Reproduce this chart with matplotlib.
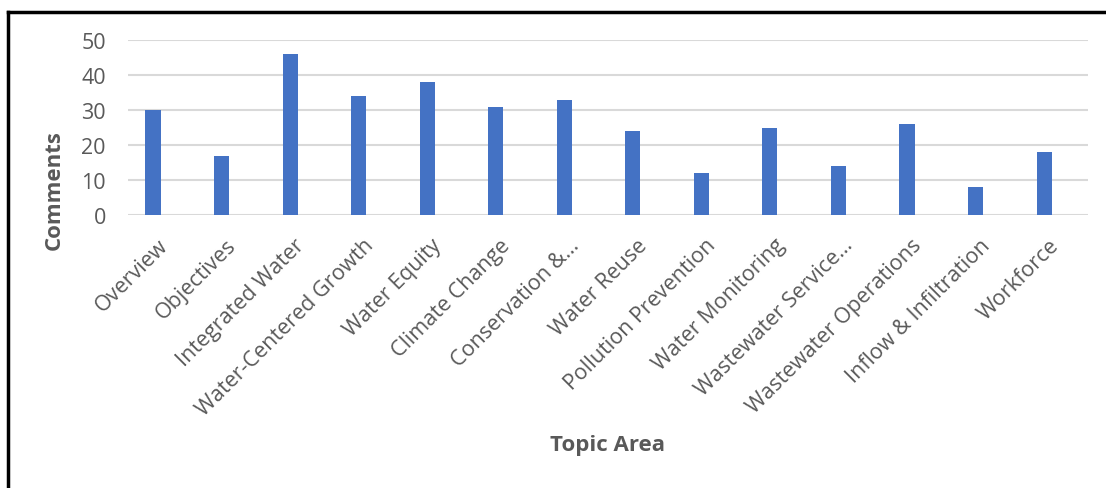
import matplotlib.pyplot as plt
import matplotlib.lines as mlines
import matplotlib.transforms as mtransforms

# Data
topics = ['Overview', 'Objectives', 'Integrated Water', 'Water-Centered Growth',
          'Water Equity', 'Climate Change', 'Conservation &…', 'Water Reuse',
          'Pollution Prevention', 'Water Monitoring', 'Wastewater Service…',
          'Wastewater Operations', 'Inflow & Infiltration', 'Workforce']
comments = [30, 17, 46, 34, 38, 31, 33, 24, 12, 25, 14, 26, 8, 18]
yticks = [0, 10, 20, 30, 40, 50]

plt.rcParams['font.family'] = ['Open Sans', 'DejaVu Sans']
txt = '#595959'

fig = plt.figure(figsize=(11.06, 4.89), dpi=100)
ax = fig.add_axes([128/1106, 1 - 216/489, (1088-128)/1106, (216-41)/489])

x = range(len(topics))
ax.bar(x, comments, width=0.22, color='#4472C4', zorder=3)

ax.set_ylim(0, 50)
# plot area is not centred on the categories in the original
ax.set_xlim(-0.365, len(topics) - 1 + 0.64)
ax.set_yticks(yticks)
ax.yaxis.grid(True, color='#D9D9D9', linewidth=1.5, zorder=0)
for s in ax.spines.values():
    s.set_visible(False)
ax.tick_params(axis='both', length=0, labelsize=15.5, labelcolor=txt)
ax.tick_params(axis='y', pad=16)
ax.set_xticks(list(x))
ax.set_xticklabels(topics, rotation=45, ha='right', rotation_mode='anchor')
ax.tick_params(axis='x', pad=14)

# nudge the slanted labels a little to the right
shift = mtransforms.ScaledTranslation(4/100, 0, fig.dpi_scale_trans)
for lab in ax.get_xticklabels():
    lab.set_transform(lab.get_transform() + shift)

fig.text(54/1106, 1 - 190/489, 'Comments', fontsize=16, fontweight='bold',
         color=txt, ha='center', va='center', rotation=90)
fig.text(607/1106, 1 - 446/489, 'Topic Area', fontsize=16, fontweight='bold',
         color=txt, ha='center', va='center')

# border of the original figure (top and left edges)
fig.add_artist(mlines.Line2D([7.5/1106, 1], [1 - 12.5/489, 1 - 12.5/489],
                             transform=fig.transFigure, color='black', linewidth=2.5))
fig.add_artist(mlines.Line2D([7.5/1106, 7.5/1106], [0, 1 - 12.5/489],
                             transform=fig.transFigure, color='black', linewidth=2.5))

fig.savefig('out.png', dpi=100)
